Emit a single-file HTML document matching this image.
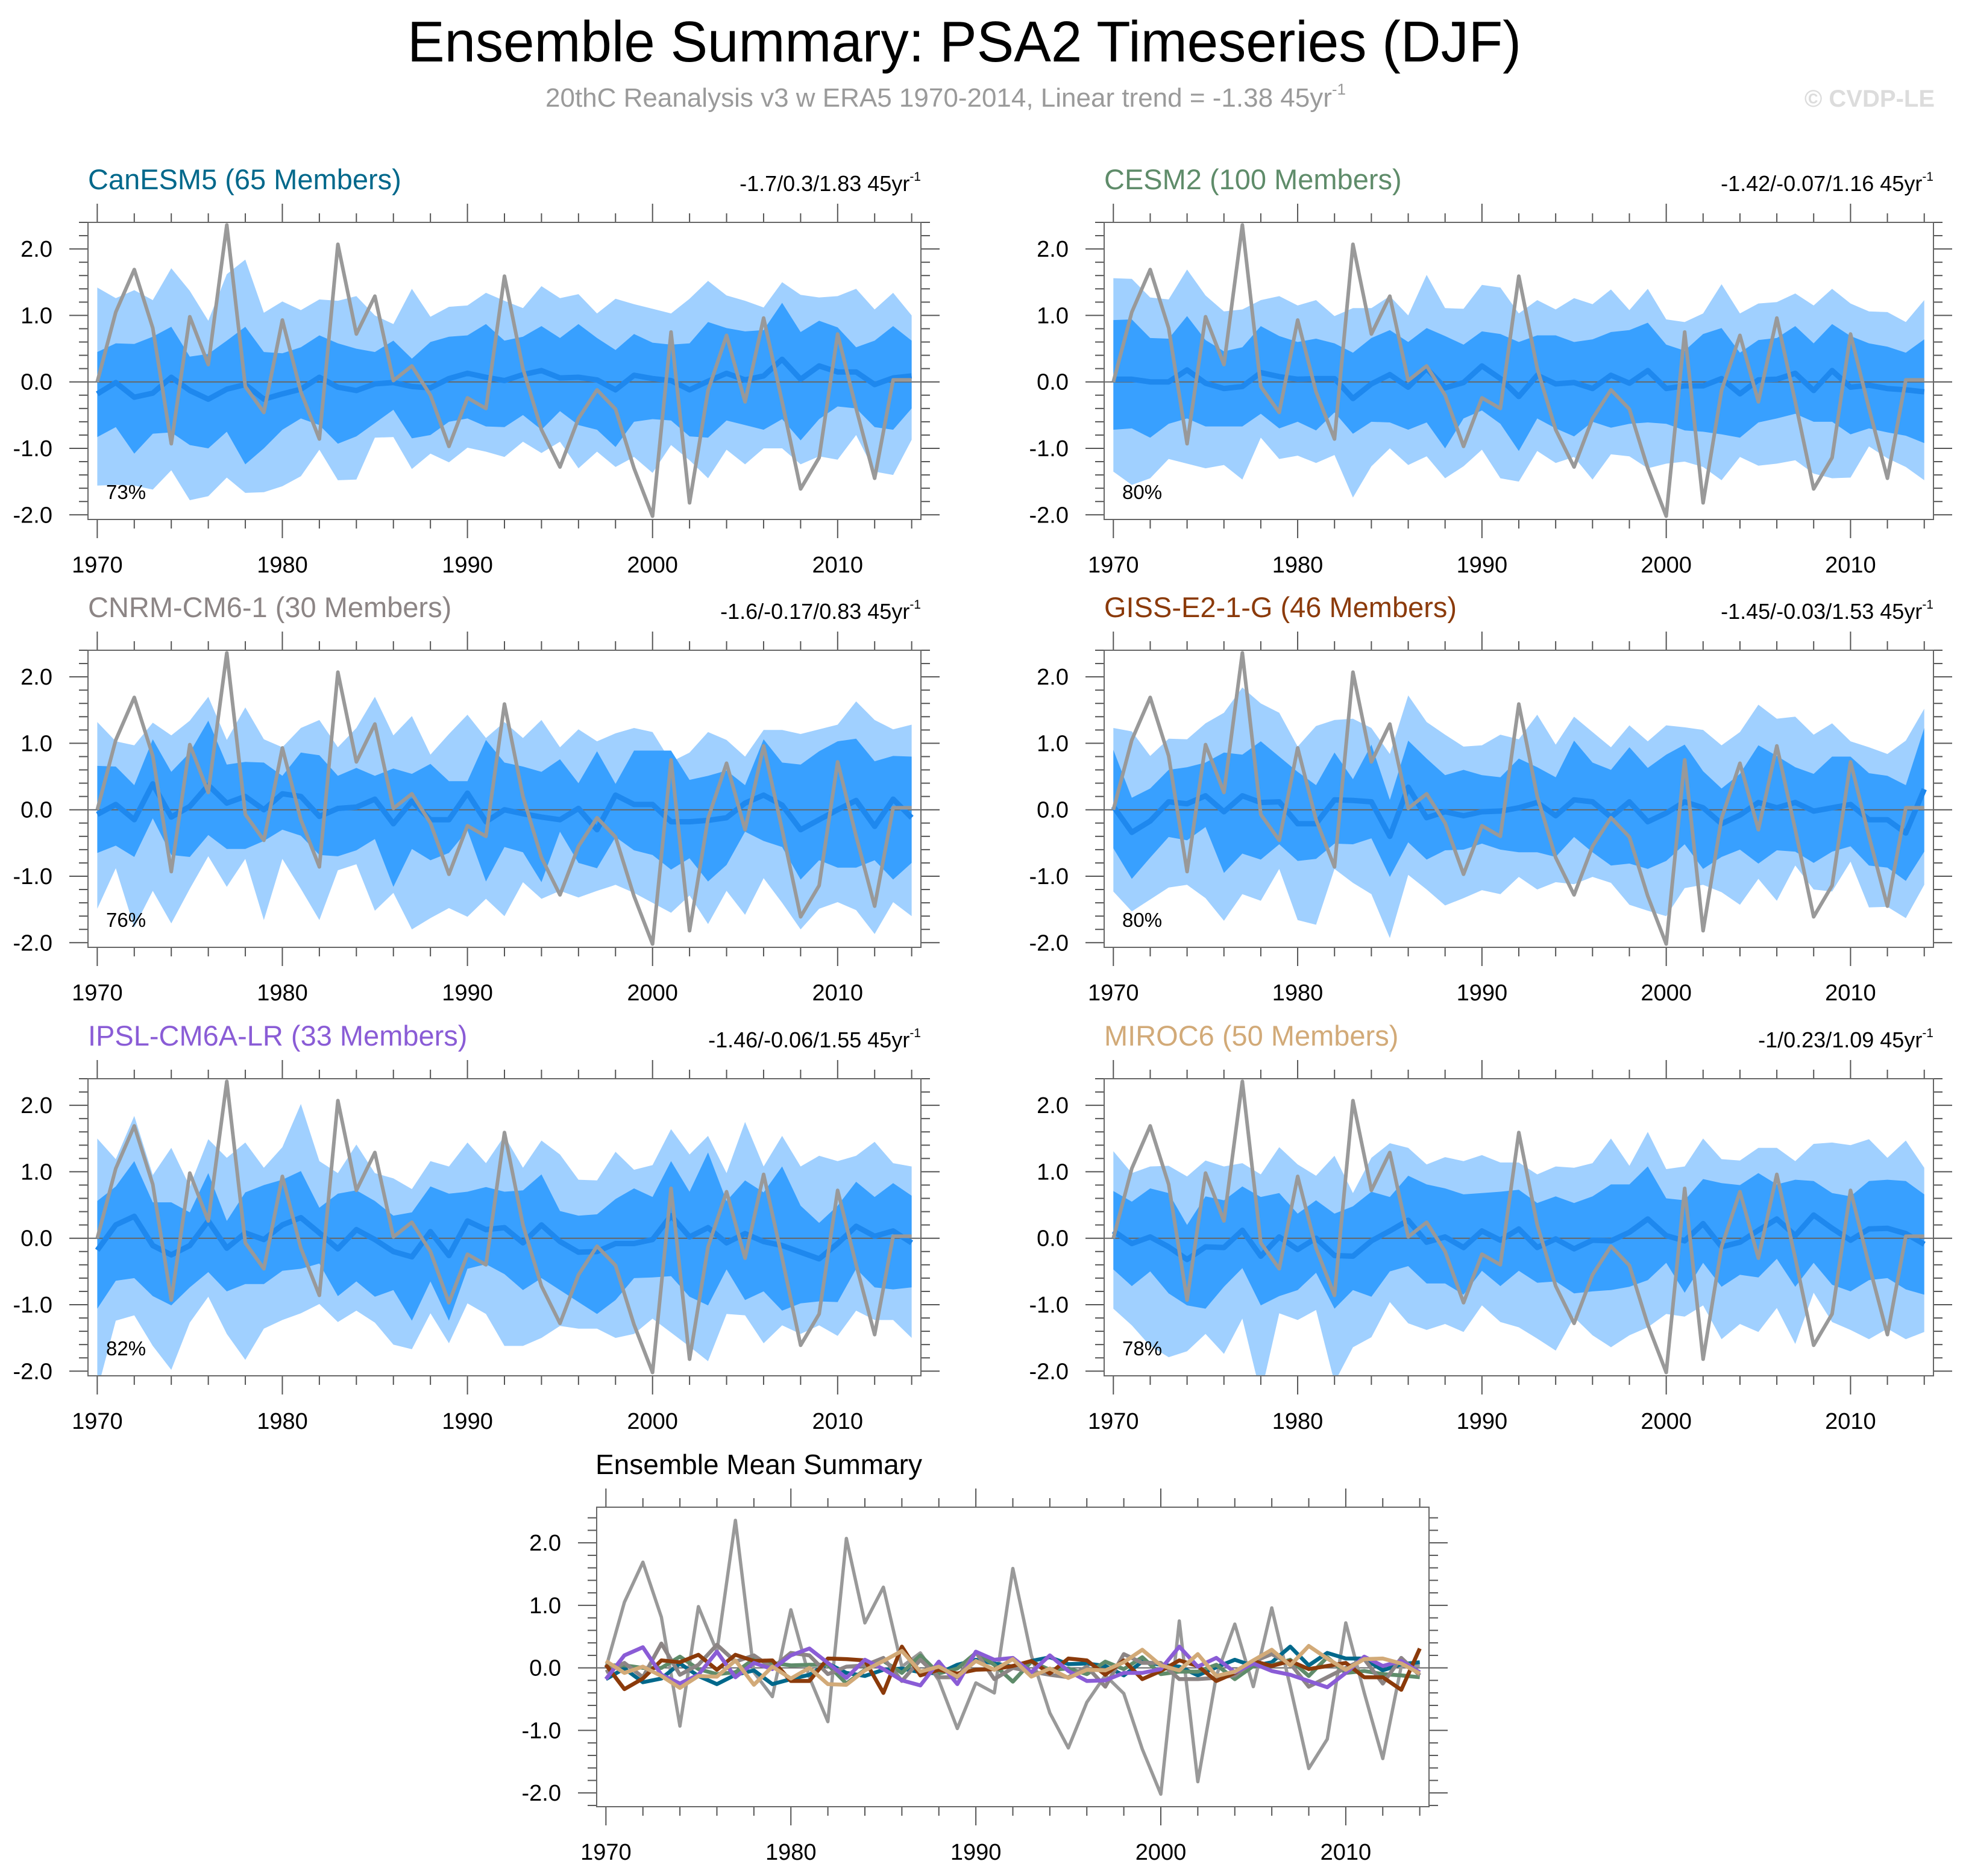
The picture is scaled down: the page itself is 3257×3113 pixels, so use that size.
<!DOCTYPE html>
<html><head><meta charset="utf-8"><title>Ensemble Summary: PSA2 Timeseries (DJF)</title>
<style>html,body{margin:0;padding:0;background:#fff;}svg{display:block;font-family:"Liberation Sans",Arial,sans-serif;}</style>
</head><body>
<svg id="chart" xmlns="http://www.w3.org/2000/svg" width="3257" height="3113" viewBox="0 0 3257 3113">
<rect width="3257" height="3113" fill="#fff"/>
<text x="1600" y="102" text-anchor="middle" font-size="96" textLength="1848" lengthAdjust="spacingAndGlyphs" fill="#000">Ensemble Summary: PSA2 Timeseries (DJF)</text>
<text x="905" y="177" font-size="44" fill="#9a9a9a">20thC Reanalysis v3 w ERA5 1970-2014, Linear trend = -1.38 45yr<tspan font-size="26" dy="-20">-1</tspan></text>
<text x="3210" y="177" text-anchor="end" font-size="40" font-weight="bold" fill="#dcdcdc">© CVDP-LE</text>
<g id="panels"></g>
</svg>
<script>
// ---------- data ----------
const years = [];
for (let y = 1970; y <= 2014; y++) years.push(y);
const yTicks = [-2, -1, 0, 1, 2];
const yTickLabels = ["-2.0", "-1.0", "0.0", "1.0", "2.0"];
const xTicks = [1970, 1980, 1990, 2000, 2010];
const xTickLabels = ["1970", "1980", "1990", "2000", "2010"];

const obs = [0.0,1.05,1.69,0.81,-0.93,0.98,0.26,2.36,-0.07,-0.46,0.93,-0.15,-0.86,2.07,0.72,1.29,0.02,0.24,-0.2,-0.97,-0.24,-0.4,1.59,0.2,-0.72,-1.28,-0.55,-0.12,-0.41,-1.3,-2.02,0.75,-1.82,-0.13,0.7,-0.3,0.96,-0.3,-1.61,-1.14,0.72,-0.4,-1.45,0.03,0.03];

const canMean = [-0.18,-0.01,-0.23,-0.17,0.07,-0.13,-0.26,-0.11,-0.04,-0.26,-0.18,-0.11,0.07,-0.08,-0.13,-0.03,-0.01,-0.07,-0.09,0.05,0.13,0.07,0.02,0.11,0.17,0.06,0.07,0.03,-0.12,0.1,0.05,0.02,-0.12,0.01,0.13,0.03,0.09,0.34,0.04,0.24,0.15,0.15,-0.04,0.06,0.09];
const canDarkHi = [0.45,0.58,0.57,0.68,0.83,0.38,0.42,0.62,0.83,0.45,0.43,0.52,0.70,0.58,0.50,0.45,0.62,0.35,0.60,0.68,0.70,0.87,0.62,0.68,0.84,0.66,0.87,0.66,0.48,0.72,0.59,0.56,0.58,0.90,0.81,0.76,0.78,1.19,0.75,0.92,0.82,0.52,0.62,0.84,0.62];
const canDarkLo = [-0.83,-0.68,-1.08,-0.78,-0.76,-0.95,-1.0,-0.75,-1.24,-1.0,-0.72,-0.55,-0.65,-0.93,-0.82,-0.62,-0.42,-0.85,-0.8,-0.6,-0.55,-0.67,-0.68,-0.5,-0.72,-0.44,-0.65,-0.72,-0.98,-0.6,-0.56,-0.58,-0.82,-0.84,-0.58,-0.65,-0.72,-0.56,-0.88,-0.56,-0.37,-0.40,-0.68,-0.72,-0.40];
const canLightHi = [1.42,1.26,1.38,1.23,1.71,1.37,0.92,1.62,1.84,1.04,1.21,1.08,1.24,1.22,1.29,1.0,0.87,1.40,0.98,1.13,1.15,1.34,1.22,1.11,1.44,1.26,1.32,1.03,1.25,1.17,1.1,1.03,1.25,1.52,1.3,1.22,1.12,1.5,1.31,1.27,1.29,1.4,1.09,1.34,1.0];
const canLightLo = [-1.56,-1.55,-1.56,-1.62,-1.33,-1.78,-1.72,-1.44,-1.67,-1.66,-1.57,-1.42,-1.02,-1.48,-1.47,-0.84,-0.83,-1.31,-1.08,-1.21,-0.99,-1.05,-1.13,-0.9,-1.07,-0.9,-1.3,-1.05,-1.28,-1.13,-1.37,-0.95,-1.18,-1.45,-1.02,-1.24,-1.0,-1.0,-1.24,-1.12,-1.17,-0.8,-1.35,-1.4,-0.87];

const cesmMean = [0.04,0.04,0.0,0.0,0.18,-0.02,-0.1,-0.07,0.14,0.08,0.04,0.05,0.05,-0.25,-0.03,0.11,-0.08,0.2,-0.09,-0.01,0.24,0.05,-0.22,0.1,-0.03,-0.01,-0.1,0.1,-0.02,0.17,-0.1,-0.06,-0.06,0.05,-0.18,0.03,0.04,0.13,-0.13,0.17,-0.08,-0.05,-0.1,-0.12,-0.15];
const cesmDarkHi = [0.93,0.94,0.66,0.65,0.99,0.63,0.46,0.52,0.84,0.69,0.6,0.65,0.58,0.44,0.66,0.78,0.6,0.81,0.69,0.56,0.76,0.72,0.6,0.7,0.7,0.6,0.64,0.75,0.78,0.89,0.56,0.47,0.72,0.81,0.44,0.63,0.66,0.84,0.58,0.87,0.69,0.58,0.53,0.44,0.64];
const cesmDarkLo = [-0.72,-0.7,-0.84,-0.63,-0.55,-0.67,-0.67,-0.67,-0.48,-0.7,-0.6,-0.73,-0.46,-0.78,-0.6,-0.61,-0.72,-0.61,-1.0,-0.55,-0.43,-0.63,-1.04,-0.55,-0.7,-0.82,-0.6,-0.69,-0.63,-0.61,-0.63,-0.73,-0.75,-0.79,-0.84,-0.61,-0.55,-0.48,-0.6,-0.6,-0.79,-0.7,-0.76,-0.81,-0.92];
const cesmLightHi = [1.56,1.55,1.27,1.24,1.69,1.3,1.06,1.09,1.23,1.29,1.15,1.23,0.99,1.11,1.11,1.29,1.0,1.61,1.11,1.1,1.46,1.42,1.03,1.23,1.09,1.26,1.17,1.39,1.08,1.4,0.94,0.9,1.03,1.47,1.03,1.18,1.2,1.33,1.15,1.4,1.18,1.06,1.05,0.9,1.23];
const cesmLightLo = [-1.35,-1.55,-1.45,-1.16,-1.23,-1.3,-1.25,-1.47,-0.84,-1.16,-1.11,-1.22,-1.10,-1.74,-1.27,-1.0,-1.25,-1.12,-1.45,-1.27,-1.02,-1.45,-1.5,-1.04,-1.22,-1.13,-1.47,-1.09,-1.12,-1.3,-1.23,-1.2,-1.28,-1.48,-1.13,-1.26,-1.23,-1.18,-1.38,-1.45,-1.44,-0.97,-1.15,-1.28,-1.48];

const cnrmMean = [-0.07,0.08,-0.15,0.39,-0.11,0.05,0.37,0.1,0.2,0.0,0.24,0.2,-0.1,0.02,0.04,0.16,-0.21,0.13,-0.15,-0.15,0.25,-0.18,0.0,-0.06,-0.11,-0.15,0.02,-0.3,0.22,0.08,0.08,-0.18,-0.18,-0.16,-0.12,0.1,0.22,0.07,-0.3,-0.15,0.0,0.14,-0.25,0.16,-0.12];
const cnrmDarkHi = [0.66,0.65,0.37,1.06,0.57,0.86,1.34,0.68,0.72,0.71,0.51,0.86,0.82,0.51,0.63,0.51,0.62,0.54,0.69,0.43,0.43,1.05,0.71,0.65,0.57,0.76,0.4,0.88,0.39,0.89,0.89,0.89,0.45,0.51,0.59,0.37,1.06,0.71,0.68,0.88,1.03,1.07,0.73,0.81,0.8];
const cnrmDarkLo = [-0.65,-0.54,-0.71,-0.13,-0.68,-0.71,-0.38,-0.59,-0.59,-0.47,-0.3,-0.39,-0.68,-0.7,-0.61,-0.44,-1.16,-0.59,-0.76,-0.65,-0.31,-1.08,-0.56,-0.64,-1.09,-0.33,-0.8,-0.88,-0.41,-0.61,-0.68,-0.9,-0.73,-1.08,-0.83,-0.33,-0.47,-0.56,-1.05,-0.76,-0.87,-0.87,-0.76,-1.05,-0.8];
const cnrmLightHi = [1.32,1.03,0.97,1.31,1.12,1.34,1.7,1.05,1.54,1.06,0.94,1.23,1.35,0.94,1.23,1.7,1.12,1.41,0.83,1.14,1.43,1.08,1.32,1.08,1.35,0.94,1.21,1.03,1.15,1.23,1.17,0.72,0.86,1.17,1.05,0.8,1.2,1.2,1.14,1.21,1.28,1.63,1.35,1.21,1.28];
const cnrmLightLo = [-1.49,-0.88,-1.77,-1.22,-1.71,-1.19,-0.7,-1.16,-0.74,-1.66,-0.74,-1.19,-1.66,-0.91,-0.82,-1.52,-1.25,-1.8,-1.63,-1.48,-1.61,-1.34,-1.6,-1.09,-1.34,-1.22,-1.32,-1.22,-1.13,-1.25,-1.4,-1.55,-1.29,-1.72,-1.22,-1.58,-1.03,-1.4,-1.8,-1.49,-1.39,-1.51,-1.87,-1.39,-1.6];

const gissMean = [0.05,-0.34,-0.17,0.12,0.09,0.21,-0.03,0.21,0.11,0.12,-0.21,-0.21,0.15,0.14,0.12,-0.4,0.34,-0.12,-0.03,-0.09,-0.03,-0.02,0.03,0.11,-0.09,0.15,0.12,-0.11,0.12,-0.18,-0.05,0.12,0.03,-0.21,-0.08,0.11,0.03,0.11,-0.02,0.03,0.08,-0.15,-0.15,-0.35,0.31];
const gissDarkHi = [0.9,0.18,0.32,0.6,0.64,0.71,0.86,0.83,1.03,0.8,0.57,0.37,0.86,0.46,0.98,0.15,1.04,0.77,0.52,0.6,0.52,0.49,0.77,0.64,0.49,1.04,0.71,0.6,0.94,0.63,0.83,0.98,0.58,0.32,0.54,0.97,0.81,0.64,0.54,0.8,0.8,0.55,0.51,0.37,1.23];
const gissDarkLo = [-0.58,-1.04,-0.72,-0.41,-0.46,-0.26,-0.95,-0.66,-0.75,-0.52,-0.77,-0.74,-0.51,-0.52,-0.43,-1.01,-0.49,-0.75,-0.61,-0.6,-0.51,-0.6,-0.64,-0.64,-0.71,-0.41,-0.64,-0.84,-0.81,-0.89,-0.77,-0.52,-0.89,-0.71,-0.6,-0.81,-0.61,-0.63,-0.8,-0.63,-0.55,-0.84,-0.87,-1.07,-0.63];
const gissLightHi = [1.23,1.18,0.81,1.07,1.06,1.3,1.46,1.84,1.6,1.46,0.95,1.26,1.35,1.37,1.23,0.84,1.72,1.32,1.13,0.95,0.97,1.13,1.06,1.43,0.98,1.4,1.17,0.94,1.27,1.03,1.27,1.24,1.2,0.97,1.17,1.58,1.37,1.4,1.13,1.3,1.03,0.94,0.84,1.04,1.52];
const gissLightLo = [-1.23,-1.53,-1.35,-1.17,-1.13,-1.33,-1.67,-1.27,-1.37,-0.89,-1.66,-1.73,-0.89,-1.1,-1.27,-1.93,-0.98,-1.2,-1.44,-1.33,-1.21,-1.27,-1.01,-1.2,-1.09,-1.12,-1.01,-1.1,-1.43,-1.52,-1.6,-1.18,-1.13,-1.24,-1.43,-1.04,-1.37,-0.84,-1.2,-1.23,-0.78,-1.47,-1.46,-1.63,-1.13];

const ipslMean = [-0.18,0.2,0.33,-0.11,-0.25,-0.11,0.26,-0.15,0.08,-0.02,0.2,0.31,0.08,-0.16,0.13,-0.02,-0.2,-0.28,0.1,-0.26,0.26,0.13,0.16,-0.07,0.2,-0.05,-0.21,-0.2,-0.08,-0.08,-0.02,0.34,0.02,0.16,-0.07,0.07,-0.05,-0.11,-0.21,-0.31,-0.08,0.18,0.03,0.11,-0.07];
const ipslDarkHi = [0.56,0.78,1.16,0.54,0.54,0.39,0.98,0.26,0.69,0.8,0.88,1.01,0.46,0.67,0.72,0.56,0.34,0.39,0.78,0.67,0.7,0.77,0.7,0.72,0.96,0.41,0.34,0.36,0.59,0.75,0.62,1.16,0.7,1.29,0.56,0.87,0.69,1.08,0.49,0.23,0.49,0.85,0.62,0.83,0.64];
const ipslDarkLo = [-1.06,-0.64,-0.6,-0.87,-1.01,-0.74,-0.51,-0.8,-0.69,-0.69,-0.49,-0.46,-0.38,-0.87,-0.65,-0.88,-0.78,-1.24,-0.65,-1.24,-0.46,-0.39,-0.54,-0.78,-0.6,-0.78,-0.96,-1.14,-0.93,-0.6,-0.59,-0.57,-0.88,-1.01,-0.47,-0.93,-0.8,-1.09,-0.98,-0.95,-0.96,-0.46,-0.74,-0.77,-0.74];
const ipslLightHi = [1.5,1.19,1.84,0.95,1.36,0.78,1.49,1.21,1.44,1.06,1.37,2.02,1.16,0.98,1.41,0.98,0.9,0.74,1.16,1.08,1.44,1.13,1.54,1.06,1.47,1.26,0.88,0.87,1.3,1.03,1.1,1.64,1.26,1.54,0.98,1.75,1.08,1.54,1.08,1.24,1.16,1.24,1.45,1.13,1.08];
const ipslLightLo = [-2.29,-1.24,-1.16,-1.62,-1.98,-1.27,-0.88,-1.44,-1.83,-1.36,-1.23,-1.13,-0.99,-1.26,-1.09,-1.27,-1.6,-1.67,-1.13,-1.58,-0.98,-1.14,-1.62,-1.62,-1.5,-1.32,-1.36,-1.36,-1.5,-1.44,-1.21,-1.42,-1.63,-1.85,-1.14,-1.16,-1.58,-1.31,-1.44,-1.31,-1.47,-1.09,-1.23,-1.23,-1.5];

const mirocMean = [0.11,-0.08,0.02,-0.13,-0.32,-0.13,-0.14,0.12,-0.27,0.02,-0.17,0.0,-0.26,-0.27,-0.04,0.11,0.27,-0.06,0.02,-0.14,0.11,-0.03,0.14,-0.14,-0.01,-0.16,-0.03,-0.04,0.09,0.29,0.04,-0.04,0.22,-0.13,-0.06,0.12,0.29,0.04,0.35,0.15,-0.03,0.14,0.15,0.07,-0.09];
const mirocDarkHi = [0.71,0.55,0.75,0.68,0.2,0.63,0.57,0.78,0.62,0.68,0.37,0.57,0.37,0.48,0.7,0.62,0.94,0.81,0.75,0.66,0.68,0.7,0.73,0.53,0.63,0.53,0.63,0.81,0.81,1.08,0.6,0.57,0.89,0.83,0.8,0.98,0.81,0.88,0.86,0.68,0.63,0.86,0.88,0.86,0.66];
const mirocDarkLo = [-0.47,-0.72,-0.5,-0.83,-1.01,-1.06,-0.73,-0.45,-1.01,-0.87,-0.78,-0.52,-1.06,-0.78,-0.88,-0.5,-0.42,-0.68,-0.68,-0.85,-0.49,-0.72,-0.49,-0.67,-0.65,-0.83,-0.8,-0.78,-0.73,-0.63,-0.37,-0.82,-0.37,-0.73,-0.55,-0.59,-0.31,-0.73,-0.37,-0.7,-0.8,-0.63,-0.6,-0.77,-0.85];
const mirocLightHi = [1.31,0.98,1.08,1.09,0.93,1.17,1.08,1.13,0.96,1.37,1.11,0.94,1.24,0.68,1.21,1.43,1.36,1.11,1.22,1.16,1.25,1.14,1.14,0.96,1.08,1.06,1.13,1.5,1.09,1.6,1.04,1.08,1.5,1.19,1.17,1.36,1.36,1.16,1.42,1.44,1.4,1.49,1.21,1.47,1.06];
const mirocLightLo = [-1.06,-1.31,-1.62,-1.79,-1.7,-1.44,-1.74,-1.21,-2.35,-1.13,-1.23,-1.08,-2.17,-1.64,-1.49,-0.96,-1.28,-1.38,-1.29,-1.41,-1.01,-1.26,-1.34,-1.51,-1.69,-1.19,-1.46,-1.64,-1.46,-1.34,-1.14,-1.18,-1.01,-1.52,-1.29,-1.41,-1.05,-1.59,-0.82,-1.26,-1.38,-1.52,-1.36,-1.52,-1.41];

const modelNames = ["CanESM5 (65 Members)","CESM2 (100 Members)","CNRM-CM6-1 (30 Members)","GISS-E2-1-G (46 Members)","IPSL-CM6A-LR (33 Members)","MIROC6 (50 Members)"];
const trendLabels = ["-1.7/0.3/1.83 45yr","-1.42/-0.07/1.16 45yr","-1.6/-0.17/0.83 45yr","-1.45/-0.03/1.53 45yr","-1.46/-0.06/1.55 45yr","-1/0.23/1.09 45yr"];
const pctLabels = ["73%","80%","76%","80%","82%","78%"];

// ---------- layout / style (not data) ----------
const NS = "http://www.w3.org/2000/svg";
const modelColors = ["#00688b","#5f8c6a","#8c8585","#8b3a0a","#8a5cd6","#d2aa78"];
const slugs = ["canesm5","cesm2","cnrm-cm6-1","giss-e2-1-g","ipsl-cm6a-lr","miroc6"];
const series = [
  [canMean,canDarkHi,canDarkLo,canLightHi,canLightLo],
  [cesmMean,cesmDarkHi,cesmDarkLo,cesmLightHi,cesmLightLo],
  [cnrmMean,cnrmDarkHi,cnrmDarkLo,cnrmLightHi,cnrmLightLo],
  [gissMean,gissDarkHi,gissDarkLo,gissLightHi,gissLightLo],
  [ipslMean,ipslDarkHi,ipslDarkLo,ipslLightHi,ipslLightLo],
  [mirocMean,mirocDarkHi,mirocDarkLo,mirocLightHi,mirocLightLo]
];
const frames = [
  {x:146,y:369,w:1382,h:493},{x:1832,y:369,w:1376,h:493},
  {x:146,y:1079,w:1382,h:493},{x:1832,y:1079,w:1376,h:493},
  {x:146,y:1790,w:1382,h:493},{x:1832,y:1790,w:1376,h:493}
];
const root = document.getElementById("panels");

function el(tag, attrs, parent) {
  const e = document.createElementNS(NS, tag);
  for (const k in attrs) e.setAttribute(k, attrs[k]);
  (parent || root).appendChild(e);
  return e;
}

function makeScales(f, ymin, ymax) {
  return {
    x: v => f.x + (v - 1969.5) / 45 * f.w,
    y: v => f.y + (ymax - v) / (ymax - ymin) * f.h
  };
}

function linePath(s, vals) {
  return vals.map((v, i) => (i ? "L" : "M") + s.x(years[i]).toFixed(1) + "," + s.y(v).toFixed(1)).join("");
}
function bandPath(s, hi, lo) {
  let d = hi.map((v, i) => (i ? "L" : "M") + s.x(years[i]).toFixed(1) + "," + s.y(v).toFixed(1)).join("");
  for (let i = lo.length - 1; i >= 0; i--) d += "L" + s.x(years[i]).toFixed(1) + "," + s.y(lo[i]).toFixed(1);
  return d + "Z";
}

function drawAxes(g, f, s, ymin, ymax, prefix) {
  const tc = "#555";
  for (let k = Math.ceil(ymin * 5); k <= Math.floor(ymax * 5); k++) {
    const v = k / 5, yy = s.y(v), major = (k % 5 === 0);
    const len = major ? 31 : 15;
    const tl = el("line", {x1:f.x-len, y1:yy, x2:f.x, y2:yy, stroke:tc, "stroke-width":2}, g);
    
    
    const tr = el("line", {x1:f.x+f.w, y1:yy, x2:f.x+f.w+len, y2:yy, stroke:tc, "stroke-width":2}, g);
    
    
  }
  yTicks.forEach((v, i) => {
    const t = el("text", {x:f.x-59, y:s.y(v)+13, "text-anchor":"end", "font-size":38, fill:"#000"}, g);
    t.textContent = yTickLabels[i];
    
    
  });
  for (let yr = 1970; yr <= 2014; yr += 2) {
    const xx = s.x(yr), major = (yr % 10 === 0);
    const len = major ? 31 : 15;
    const tt = el("line", {x1:xx, y1:f.y-len, x2:xx, y2:f.y, stroke:tc, "stroke-width":2}, g);
    
    
    const tb = el("line", {x1:xx, y1:f.y+f.h, x2:xx, y2:f.y+f.h+len, stroke:tc, "stroke-width":2}, g);
    
    
  }
  xTicks.forEach((v, i) => {
    const t = el("text", {x:s.x(v), y:f.y+f.h+88, "text-anchor":"middle", "font-size":38, fill:"#000"}, g);
    t.textContent = xTickLabels[i];
    
    
  });
  const fr = el("rect", {x:f.x, y:f.y, width:f.w, height:f.h, fill:"none", stroke:"#666", "stroke-width":2}, g);
  
  
}

const YMIN = -2.07, YMAX = 2.40;
frames.forEach((f, p) => {
  const s = makeScales(f, YMIN, YMAX);
  const g = el("g", {});
  
  
  const cp = el("clipPath", {id:"clip" + p}, g);
  el("rect", {x:f.x, y:f.y, width:f.w, height:f.h}, cp);
  const plot = el("g", {"clip-path":"url(#clip" + p + ")"}, g);
  const [mean, dHi, dLo, lHi, lLo] = series[p];
  const lb = el("path", {d:bandPath(s, lHi, lLo), fill:"#a0d0ff", stroke:"none"}, plot);
  
  
  const db = el("path", {d:bandPath(s, dHi, dLo), fill:"#38a0ff", stroke:"none"}, plot);
  
  
  const zl = el("line", {x1:f.x, y1:s.y(0), x2:f.x+f.w, y2:s.y(0), stroke:"#666", "stroke-width":2}, plot);
  
  
  const ml = el("path", {d:linePath(s, mean), fill:"none", stroke:"#1e88ee", "stroke-width":9, "stroke-linejoin":"round"}, plot);
  
  
  const ol = el("path", {d:linePath(s, obs), fill:"none", stroke:"#999999", "stroke-width":6, "stroke-linejoin":"round"}, plot);
  
  
  drawAxes(g, f, s, YMIN, YMAX, slugs[p]);
  const tt = el("text", {x:f.x, y:f.y-55, "font-size":47, fill:modelColors[p]}, g);
  tt.textContent = modelNames[p];
  
  
  const tr = el("text", {x:f.x+f.w, y:f.y-52, "text-anchor":"end", "font-size":36, fill:"#000"}, g);
  tr.textContent = trendLabels[p];
  const sup = el("tspan", {"font-size":21, dy:-17}, tr);
  sup.textContent = "-1";
  
  
  const pc = el("text", {x:f.x+30, y:f.y+f.h-34, "font-size":33, fill:"#000"}, g);
  pc.textContent = pctLabels[p];
  
  
});

// bottom summary panel
(function () {
  const f = {x:990, y:2501, w:1381, h:497};
  const ymin = -2.22, ymax = 2.57;
  const s = makeScales(f, ymin, ymax);
  const g = el("g", {});
  
  
  const cp = el("clipPath", {id:"clipSum"}, g);
  el("rect", {x:f.x, y:f.y, width:f.w, height:f.h}, cp);
  const plot = el("g", {"clip-path":"url(#clipSum)"}, g);
  const zl = el("line", {x1:f.x, y1:s.y(0), x2:f.x+f.w, y2:s.y(0), stroke:"#666", "stroke-width":2}, plot);
  
  
  const ol = el("path", {d:linePath(s, obs), fill:"none", stroke:"#999999", "stroke-width":5.5, "stroke-linejoin":"round"}, plot);
  
  
  series.forEach((ser, p) => {
    const l = el("path", {d:linePath(s, ser[0]), fill:"none", stroke:modelColors[p], "stroke-width":6.5, "stroke-linejoin":"round"}, plot);
    
    
  });
  drawAxes(g, f, s, ymin, ymax, 'summary');
  const tt = el("text", {x:988, y:2446, "font-size":46, fill:"#000"}, g);
  tt.textContent = "Ensemble Mean Summary";
  
  
})();
</script>
</body></html>
